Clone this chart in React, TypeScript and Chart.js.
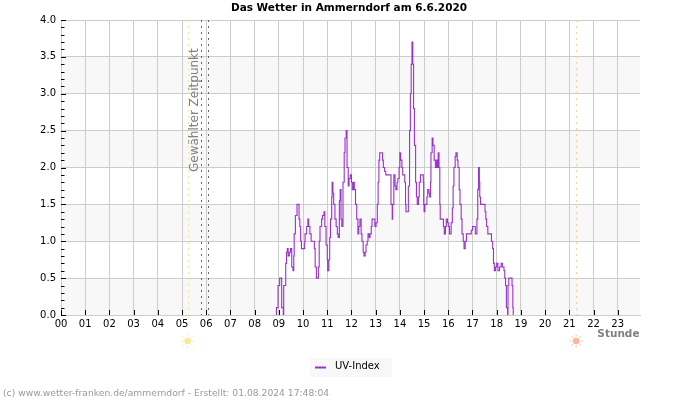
import React, { useEffect, useRef } from "react";
import { Chart, registerables } from "chart.js";

Chart.register(...registerables);

const uvMinutes = [533,534,538,542,547,551,552,557,559,561,563,566,569,572,575,577,578,581,585,590,592,594,596,602,604,605,609,612,614,617,620,625,628,630,633,637,638,640,642,646,648,652,654,657,660,661,664,666,668,671,672,674,676,679,682,685,687,690,692,694,696,699,702,704,707,709,712,714,717,720,722,725,727,730,733,736,738,741,744,746,749,751,754,756,759,761,764,766,769,771,776,778,781,784,786,788,790,794,797,799,802,805,815,818,819,821,822,825,828,830,833,835,838,840,842,845,847,850,852,854,855,860,861,864,866,868,870,872,874,876,879,881,883,886,888,891,895,898,899,900,902,904,907,909,912,914,916,917,920,922,925,928,931,933,935,937,939,940,945,948,950,953,955,958,960,963,965,967,970,972,974,977,979,982,984,987,989,992,994,997,999,1002,1005,1015,1017,1020,1025,1027,1030,1031,1033,1035,1037,1038,1040,1048,1051,1053,1055,1058,1063,1067,1070,1072,1074,1077,1080,1083,1087,1091,1094,1098,1100,1102,1104,1107,1108,1110,1116,1118,1120,1121];
const uvValues = [0,0.1,0.4,0.5,0.1,0,0.4,0.7,0.85,0.9,0.8,0.85,0.9,0.65,0.6,0.8,1.1,1.35,1.5,1.3,1.2,1.0,0.9,0.9,1.0,1.1,1.2,1.3,1.2,1.1,1.0,1.0,0.9,0.65,0.5,0.5,0.65,1.0,1.2,1.3,1.35,1.4,1.2,0.95,0.75,0.6,0.75,1.05,1.3,1.6,1.8,1.65,1.5,1.3,1.2,1.1,1.05,1.55,1.7,1.3,1.2,1.8,2.2,2.4,2.5,2.0,1.75,1.85,1.9,1.8,1.7,1.8,1.7,1.5,1.3,1.1,1.2,1.3,1.1,1.0,0.85,0.8,0.85,0.95,1.0,1.1,1.05,1.1,1.2,1.3,1.3,1.2,1.25,1.5,1.8,2.1,2.2,2.2,2.1,2.0,1.95,1.9,1.9,1.5,1.5,1.3,1.5,1.9,1.75,1.7,1.8,1.85,2.0,2.2,2.1,2.0,1.9,1.9,1.8,1.5,1.4,1.4,1.75,2.5,3.0,3.4,3.7,3.4,2.8,2.3,1.8,1.6,1.5,1.6,1.8,1.9,1.9,1.8,1.5,1.4,1.5,1.5,1.6,1.7,1.65,1.6,1.8,2.2,2.4,2.3,2.1,2.0,2.1,2.0,2.2,2.0,1.5,1.3,1.3,1.2,1.1,1.2,1.3,1.25,1.2,1.1,1.1,1.25,1.45,1.75,2.0,2.15,2.2,2.1,2.0,1.7,1.5,1.3,1.1,1.0,0.9,1.0,1.1,1.1,1.15,1.2,1.2,1.1,1.1,1.3,1.7,2.0,1.8,1.6,1.5,1.5,1.4,1.3,1.2,1.1,1.1,1.0,0.9,0.7,0.6,0.65,0.7,0.6,0.65,0.7,0.65,0.6,0.5,0.4,0.1,0,0.4,0.5,0.5,0.4,0.1,0];

const seriesName = "UV-Index";
const chartTitle = "Das Wetter in Ammerndorf am 6.6.2020";
const footerText = "(c) www.wetter-franken.de/ammerndorf - Erstellt: 01.08.2024 17:48:04";
const axisUnit = "Stunde";
const markerLabel = "Gewählter Zeitpunkt";
const selectedHours = [5.8, 6.07];
const sunriseHour = 5.23;
const sunsetHour = 21.28;
const bandRanges = [[0, 0.5], [1, 1.5], [2, 2.5], [3, 3.5]];
const minorTicks = [0.1,0.2,0.3,0.4,0.6,0.7,0.8,0.9,1.1,1.2,1.3,1.4,1.6,1.7,1.8,1.9,2.1,2.2,2.3,2.4,2.6,2.7,2.8,2.9,3.1,3.2,3.3,3.4,3.6,3.7,3.8,3.9];
const majorTicks = [0,0.5,1,1.5,2,2.5,3,3.5,4];
const hourTicks = [0,1,2,3,4,5,6,7,8,9,10,11,12,13,14,15,16,17,18,19,20,21,22,23];

const FONT = '"DejaVu Sans"';
const LINE = "#9932cc";

function sun(ctx: CanvasRenderingContext2D, x: number, y: number, fill: string, ray: string) {
  ctx.save();
  ctx.fillStyle = fill;
  ctx.strokeStyle = ray;
  ctx.lineWidth = 1;
  ctx.beginPath();
  ctx.arc(x, y, 3.3, 0, Math.PI * 2);
  ctx.fill();
  for (let i = 0; i < 8; i++) {
    const a = (i * Math.PI) / 4;
    ctx.beginPath();
    ctx.moveTo(x + Math.cos(a) * 4.4, y + Math.sin(a) * 4.4);
    ctx.lineTo(x + Math.cos(a) * 6.6, y + Math.sin(a) * 6.6);
    ctx.stroke();
  }
  ctx.restore();
}

const decor = {
  id: "decor",
  beforeDatasetsDraw(chart: any) {
    const { ctx, chartArea: a, scales } = chart;
    const xs = scales.x;
    const ys = scales.y;
    ctx.save();
    ctx.lineWidth = 1;
    const vline = (h: number, color: string) => {
      const x = Math.round(xs.getPixelForValue(h)) + 0.5;
      ctx.strokeStyle = color;
      ctx.setLineDash([2, 4]);
      ctx.beginPath();
      ctx.moveTo(x, a.top);
      ctx.lineTo(x, a.bottom);
      ctx.stroke();
    };
    vline(sunriseHour, "#f7e98f");
    vline(sunsetHour, "#fad0a0");
    selectedHours.forEach((h) => vline(h, "#666666"));
    ctx.setLineDash([]);
    ctx.strokeStyle = "#000";
    majorTicks.forEach((v) => {
      const y = Math.round(ys.getPixelForValue(v)) + 0.5;
      ctx.beginPath();
      ctx.moveTo(a.left, y);
      ctx.lineTo(a.left + 5, y);
      ctx.stroke();
    });
    minorTicks.forEach((v) => {
      const y = Math.round(ys.getPixelForValue(v)) + 0.5;
      ctx.beginPath();
      ctx.moveTo(a.left, y);
      ctx.lineTo(a.left + 3.5, y);
      ctx.stroke();
    });
    hourTicks.forEach((h) => {
      const x = Math.round(xs.getPixelForValue(h)) + 0.5;
      ctx.beginPath();
      ctx.moveTo(x, a.bottom);
      ctx.lineTo(x, a.bottom - 5);
      ctx.stroke();
    });
    ctx.fillStyle = "#808080";
    ctx.font = `12px ${FONT}`;
    ctx.textAlign = "left";
    ctx.textBaseline = "middle";
    ctx.translate(194.5, 172);
    ctx.rotate(-Math.PI / 2);
    ctx.fillText(markerLabel, 0, 0);
    ctx.restore();
  },
  afterDraw(chart: any) {
    const { ctx, scales } = chart;
    const xs = scales.x;
    ctx.save();
    ctx.textBaseline = "middle";
    ctx.textAlign = "center";
    ctx.fillStyle = "#000";
    ctx.font = `bold 10.5px ${FONT}`;
    ctx.fillText(chartTitle, 349, 8.5);
    ctx.textAlign = "right";
    ctx.fillStyle = "#808080";
    ctx.fillText(axisUnit, 639.5, 334);
    sun(ctx, xs.getPixelForValue(sunriseHour), 341, "#fde79a", "#fde9a8");
    sun(ctx, xs.getPixelForValue(sunsetHour), 341, "#ffb4a0", "#ffc0ae");
    ctx.fillStyle = "#f8f8f8";
    ctx.fillRect(310, 358, 82, 19);
    ctx.strokeStyle = LINE;
    ctx.lineWidth = 2;
    ctx.beginPath();
    ctx.moveTo(315, 367.5);
    ctx.lineTo(326, 367.5);
    ctx.stroke();
    ctx.textAlign = "left";
    ctx.fillStyle = "#000";
    ctx.font = `10px ${FONT}`;
    ctx.fillText(seriesName, 335, 366.5);
    ctx.fillStyle = "#999999";
    ctx.font = `9.2px ${FONT}`;
    ctx.fillText(footerText, 3, 393.5);
    ctx.restore();
  },
  beforeDraw(chart: any) {
    const { ctx, chartArea: a, scales } = chart;
    ctx.save();
    ctx.fillStyle = "#f8f8f8";
    bandRanges.forEach(([lo, hi]) => {
      const yTop = scales.y.getPixelForValue(hi);
      const yBot = scales.y.getPixelForValue(lo);
      ctx.fillRect(a.left, yTop, a.right - a.left, yBot - yTop);
    });
    ctx.restore();
  },
};

export default function App() {
  const ref = useRef<HTMLCanvasElement>(null);
  useEffect(() => {
    document.body.style.margin = "0";
    const chart = new Chart(ref.current as HTMLCanvasElement, {
      type: "line",
      data: {
        datasets: [
          {
            label: seriesName,
            data: uvMinutes.map((m, i) => ({ x: m / 60, y: uvValues[i] })),
            borderColor: LINE,
            borderWidth: 1.1,
            pointRadius: 0,
            stepped: true,
            fill: false,
          },
        ],
      },
      options: {
        animation: false,
        responsive: false,
        devicePixelRatio: 1,
        layout: { padding: { top: 20, right: 60, left: 0, bottom: 0 } },
        plugins: { legend: { display: false }, title: { display: false }, tooltip: { enabled: false } },
        scales: {
          x: {
            type: "linear",
            min: 0,
            max: 23.92,
            afterFit: (s: any) => { s.height = 85; },
            afterBuildTicks: (s: any) => { s.ticks = hourTicks.map((value) => ({ value })); },
            grid: { color: "#cccccc", lineWidth: 1, drawTicks: false },
            border: { color: "#cccccc" },
            ticks: {
              autoSkip: false,
              maxRotation: 0,
              padding: 3,
              color: "#000",
              font: { family: "DejaVu Sans", size: 10 },
              callback: (v: any) => String(v).padStart(2, "0"),
            },
          },
          y: {
            type: "linear",
            min: 0,
            max: 4,
            afterFit: (s: any) => { s.width = 61; },
            grid: { color: "#cccccc", lineWidth: 1, drawTicks: false },
            border: { color: "#cccccc" },
            ticks: {
              stepSize: 0.5,
              padding: 5,
              color: "#000",
              font: { family: "DejaVu Sans", size: 10 },
              callback: (v: any) => Number(v).toFixed(1),
            },
          },
        },
      },
      plugins: [decor],
    } as any);
    return () => chart.destroy();
  }, []);
  return <canvas ref={ref} width={700} height={400} style={{ display: "block" }} />;
}
